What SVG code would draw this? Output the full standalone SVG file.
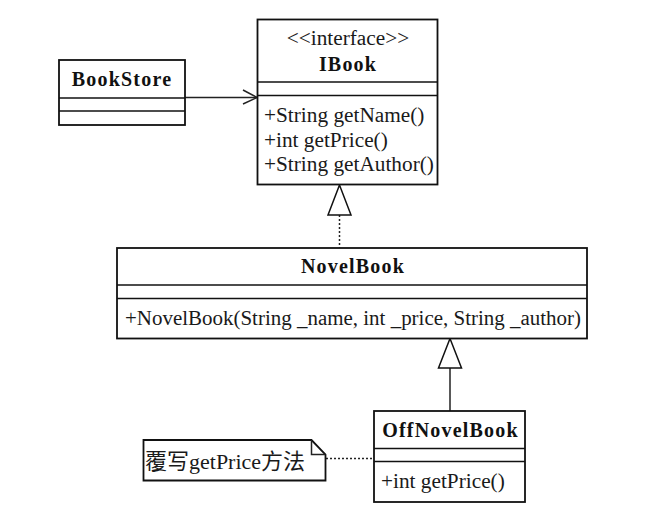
<svg xmlns="http://www.w3.org/2000/svg" width="649" height="530" viewBox="0 0 649 530">
<style>
  .box { fill: #fff; stroke: #111; stroke-width: 1.8; }
  .sep { stroke: #111; stroke-width: 1.5; }
  .t { font-family: "Liberation Serif", "Noto Sans CJK SC", serif; font-size: 21.3px; fill: #1a1a1a; }
  .b { font-family: "Liberation Serif", serif; font-size: 20px; font-weight: bold; letter-spacing: 1.2px; fill: #111; text-anchor: middle; }
  .c { text-anchor: middle; }
  .ln { stroke: #222; stroke-width: 1.5; fill: none; }
  .dot { stroke: #222; stroke-width: 1.5; stroke-dasharray: 2 2; fill: none; }
  .tri { fill: #fff; stroke: #111; stroke-width: 1.5; }
</style>
<rect width="649" height="530" fill="#fff"/>

<g id="connectors">
  <line class="ln" x1="185" y1="97.5" x2="257" y2="97.5"/>
  <polyline class="ln" points="243,90 257,97.5 243,104"/>
  <line class="dot" x1="339.5" y1="215" x2="339.5" y2="247.5"/>
  <polygon class="tri" points="339.5,185 328,215 351,215"/>
  <line class="ln" x1="450" y1="368" x2="450" y2="411"/>
  <polygon class="tri" points="450,338.5 438.5,368 461.5,368"/>
  <line class="dot" x1="326" y1="458.5" x2="374" y2="458.5"/>
</g>

<g id="BookStore">
  <rect class="box" x="59" y="60" width="126" height="65"/>
  <line class="sep" x1="59" y1="98" x2="185" y2="98"/>
  <line class="sep" x1="59" y1="111" x2="185" y2="111"/>
  <text class="b" x="122" y="86">BookStore</text>
</g>

<g id="IBook">
  <rect class="box" x="257.5" y="19.5" width="180" height="165"/>
  <line class="sep" x1="257.5" y1="82" x2="437.5" y2="82"/>
  <line class="sep" x1="257.5" y1="95.5" x2="437.5" y2="95.5"/>
  <text class="t c" x="348" y="45">&lt;&lt;interface&gt;&gt;</text>
  <text class="b" x="348" y="71">IBook</text>
  <text class="t" x="264" y="122">+String getName()</text>
  <text class="t" x="264" y="147">+int getPrice()</text>
  <text class="t" x="264" y="171">+String getAuthor()</text>
</g>

<g id="NovelBook">
  <rect class="box" x="117" y="248" width="470" height="90.5"/>
  <line class="sep" x1="117" y1="285" x2="587" y2="285"/>
  <line class="sep" x1="117" y1="298.5" x2="587" y2="298.5"/>
  <text class="b" x="353" y="273">NovelBook</text>
  <text class="t" x="125" y="325" textLength="456" lengthAdjust="spacingAndGlyphs">+NovelBook(String _name, int _price, String _author)</text>
</g>

<g id="OffNovelBook">
  <rect class="box" x="374" y="411" width="151" height="91"/>
  <line class="sep" x1="374" y1="448.5" x2="525" y2="448.5"/>
  <line class="sep" x1="374" y1="461.5" x2="525" y2="461.5"/>
  <text class="b" x="450.5" y="437">OffNovelBook</text>
  <text class="t" x="381" y="488">+int getPrice()</text>
</g>

<g id="note">
  <path class="box" d="M143.5,440 H311.5 L325.5,454.5 V480.5 H143.5 Z"/>
  <path class="ln" d="M311.5,440 V454.5 H325.5"/>
  <text class="t" x="145" y="469" fill="#333" style="font-size:22px">覆写getPrice方法</text>
</g>
</svg>
